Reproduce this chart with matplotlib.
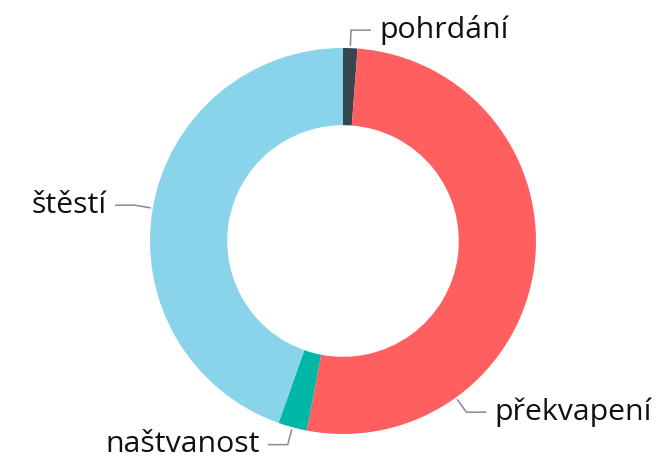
import numpy as np
import matplotlib
matplotlib.use("Agg")
import matplotlib.pyplot as plt

labels = ["pohrdání", "překvapení", "naštvanost", "štěstí"]
values = [1, 43, 2, 37]
colors = ["#36464e", "#ff5f5f", "#00b6a6", "#89d4ea"]

# where along each wedge the label connector starts (0 = start, 1 = end)
label_pos = [0.5, 0.75, 0.5, 0.5]

plt.rcParams["font.family"] = ["Open Sans", "DejaVu Sans"]

W, H = 664, 466
fig = plt.figure(figsize=(W / 100, H / 100), dpi=100)
ax = fig.add_axes([0, 0, 1, 1])

cx, cy, R = 343, H - 241, 193
wedges, _ = ax.pie(values, colors=colors, startangle=90, counterclock=False,
                   center=(cx, cy), radius=R, frame=True,
                   wedgeprops=dict(width=R * 0.4, linewidth=0))
ax.set_xlim(0, W)
ax.set_ylim(0, H)
ax.set_aspect("equal")
ax.axis("off")

for w, lab, f in zip(wedges, labels, label_pos):
    # wedges go clockwise: theta2 -> theta1
    ang = np.deg2rad(w.theta2 - f * (w.theta2 - w.theta1))
    c, s = np.cos(ang), np.sin(ang)
    x0, y0 = cx + (R + 2) * c, cy + (R + 2) * s
    x1, y1 = cx + (R + 18) * c, cy + (R + 18) * s
    side = 1 if c >= -0.1 else -1
    x2 = x1 + side * 20
    ax.plot([x0, x1, x2], [y0, y1, y1], color="#8a8a8a", lw=1.1,
            solid_capstyle="butt", solid_joinstyle="miter")
    ax.text(x2 + side * 8, y1, lab, ha="left" if side > 0 else "right",
            va="center", fontsize=21.8, color="#111111")

fig.savefig("out.png", dpi=100)
